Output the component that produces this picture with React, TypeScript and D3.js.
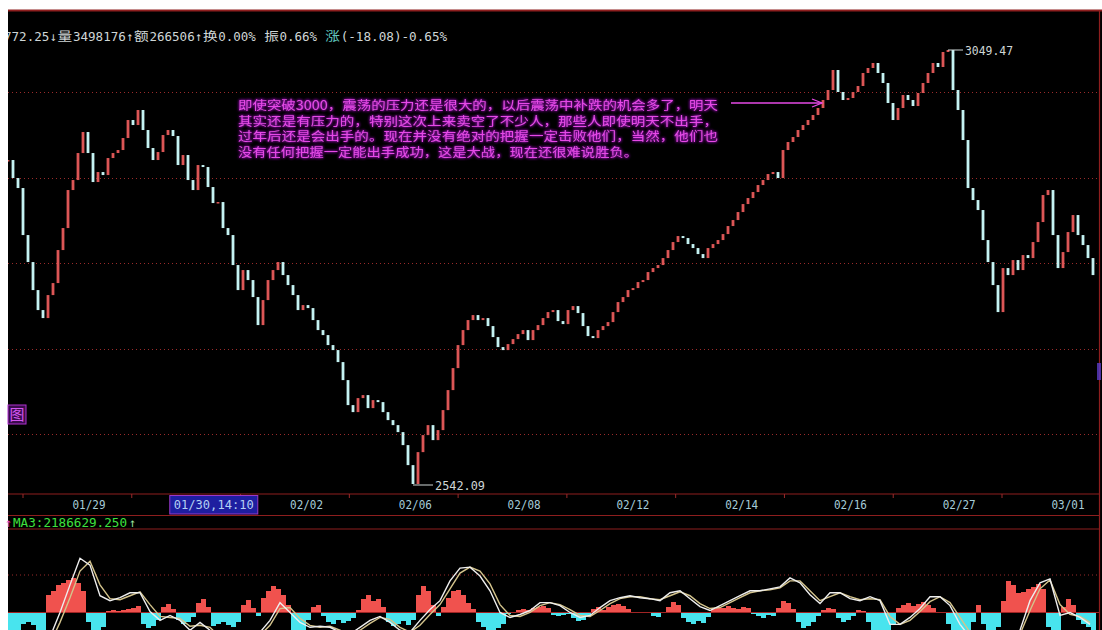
import { useEffect, useRef } from "react";
import * as d3 from "d3";

// closing prices, one candle every ~5px
const closes = [
  2920.84, 2899.79, 2888.09, 2833.13, 2801.56, 2768.81, 2745.43, 2736.07, 2762.97, 2777.0,
  2815.59, 2841.32, 2885.75, 2897.45, 2929.02, 2953.58, 2929.02, 2895.11, 2906.8, 2903.29,
  2923.17, 2929.02, 2932.53, 2946.56, 2967.61, 2961.76, 2979.31, 2955.92, 2934.87, 2920.84,
  2930.19, 2950.07, 2955.92, 2948.9, 2914.99, 2926.68, 2897.45, 2885.75, 2914.99, 2912.65,
  2889.26, 2870.55, 2871.72, 2841.32, 2833.13, 2798.05, 2768.81, 2792.2, 2780.51, 2760.63,
  2727.88, 2757.12, 2780.51, 2792.2, 2801.56, 2786.35, 2774.66, 2762.97, 2745.43, 2751.27,
  2747.76, 2733.73, 2722.04, 2716.19, 2704.5, 2698.65, 2684.62, 2663.57, 2634.33, 2626.15,
  2642.52, 2646.03, 2630.82, 2640.18, 2637.84, 2626.15, 2616.79, 2610.94, 2602.76, 2587.56,
  2564.17, 2542.09, 2579.37, 2599.25, 2610.94, 2593.4, 2605.1, 2628.49, 2651.87, 2677.6,
  2704.5, 2722.04, 2733.73, 2739.58, 2733.73, 2736.07, 2726.72, 2713.85, 2702.16, 2698.65,
  2705.67, 2711.51, 2717.36, 2722.04, 2710.34, 2722.04, 2727.88, 2736.07, 2743.09, 2745.43,
  2732.56, 2729.05, 2745.43, 2750.1, 2741.92, 2726.72, 2715.02, 2712.68, 2722.04, 2726.72,
  2731.39, 2743.09, 2754.78, 2760.63, 2768.81, 2771.15, 2778.17, 2780.51, 2789.86, 2794.54,
  2798.05, 2806.23, 2815.59, 2824.95, 2831.96, 2829.62, 2822.61, 2817.93, 2810.91, 2806.23,
  2817.93, 2822.61, 2827.28, 2834.3, 2843.66, 2850.67, 2860.03, 2869.38, 2876.4, 2883.42,
  2891.6, 2897.45, 2904.46, 2906.8, 2899.79, 2932.53, 2941.89, 2947.73, 2955.92, 2961.76,
  2967.61, 2973.46, 2981.64, 2991.0, 3002.69, 3026.08, 3000.36, 2991.0, 2993.34, 3000.36,
  3007.37, 3022.57, 3028.42, 3034.27, 3022.57, 3010.88, 2987.49, 2967.61, 2981.64, 2996.85,
  2991.0, 2983.98, 2999.19, 3010.88, 3022.57, 3034.27, 3029.59, 3047.13, 3049.47, 3002.69,
  2979.31, 2944.22, 2888.09, 2874.06, 2862.37, 2827.28, 2801.56, 2774.66, 2743.09, 2794.54,
  2786.35, 2803.9, 2792.2, 2809.74, 2806.23, 2824.95, 2848.34, 2879.91, 2885.75, 2833.13,
  2794.54, 2813.25, 2836.64, 2856.52, 2833.13, 2821.44, 2806.23, 2786.35,
];

// lower panel histogram, same candle positions
const oscillator = [
  -20, -22, -20, -12, -10, -13, -20, -22, 18, 22, 28, 30, 33, 35, 30, 22, -10, -22, -25, -15,
  2, 3, 2, 3, 4, 5, 7, -12, -16, -14, -8, 6, 9, 4, -8, -12, -10, -5, 10, 14,
  6, -14, -12, -10, -13, -15, -10, 8, 13, 5, -4, 15, 22, 27, 24, 18, 8, -18, -22, -18,
  -8, 6, 8, -4, -10, -12, -8, -11, -9, -6, 3, 14, 18, 12, 14, 6, -10, -14, -12, -9,
  -13, -8, 18, 27, 22, 8, -4, 6, 15, 22, 23, 18, 10, 4, -10, -15, -18, -20, -16, -12,
  -2, 1, 3, 4, 3, 5, 6, 7, 5, -3, -4, -3, -2, -6, -9, -8, -5, 4, 6, 3,
  6, 8, 9, 7, 4, 1, -1, 1, -1, -4, -5, 1, 6, 11, 8, -6, -10, -12, -9, -11,
  -5, 4, 6, 5, 7, 5, 4, 6, 5, -2, -4, -6, -3, -4, 5, 12, 10, 4, -10, -16,
  -14, -10, -4, 3, 5, 4, -6, -10, -8, -4, 3, 2, -10, -18, -22, -24, -20, -12, 5, 8,
  10, 7, 9, 11, 8, 5, 1, -1, -12, -22, -25, -25, -20, -10, 8, -12, -20, -18, -15, 12,
  32, 28, 20, 21, 24, 26, 29, 24, -15, -24, -20, 6, 14, 8, -8, -12, -15, -20,
];

// two moving-average lines in the lower panel, one point every ~10px
const maFast = [
  -40, -45, -45, -40, -25, 0, 28, 55, 48, 17, 12, 15, 20, 20, 1, -8, -3, -8, -18, -10,
  -18, -28, -30, -30, -28, -20, -8, 10, 0, -10, -15, -14, -15, -20, -22, -15, -8, -4, -10, -18,
  -20, -8, 3, 12, 32, 45, 46, 37, 22, 0, -5, -2, 2, 10, 10, 7, 0, -5, -3, 5,
  12, 15, 17, 15, 14, 12, 20, 22, 14, 6, 2, 7, 12, 17, 22, 22, 24, 26, 35, 30,
  18, 9, 20, 20, 14, 12, 16, 12, -12, -12, -5, 4, 16, 16, 7, -12, -25, -32, -35, -35,
  -30, -18, 12, 30, 34, -3, 0, -5, -12,
];
const maSlow = [
  -42, -45, -46, -43, -32, -10, 15, 42, 52, 28, 14, 13, 17, 21, 8, -4, -5, -6, -14, -13,
  -15, -25, -30, -31, -29, -23, -13, 4, 5, -6, -13, -15, -14, -18, -22, -18, -11, -5, -7, -15,
  -20, -13, -2, 8, 24, 40, 46, 42, 29, 8, -3, -4, 0, 7, 10, 8, 3, -3, -4, 2,
  9, 14, 16, 16, 14, 13, 17, 21, 17, 9, 4, 5, 10, 15, 20, 22, 23, 25, 32, 32,
  22, 12, 16, 20, 16, 13, 14, 13, -4, -12, -8, 1, 11, 16, 10, -5, -20, -30, -34, -35,
  -32, -22, 2, 24, 33, 8, -2, -4, -10,
];

const dateLabels = ["01/29", "01/30,14:10", "02/02", "02/06", "02/08", "02/12", "02/14", "02/16", "02/27", "03/01"];
const cursorLabel = "01/30,14:10";
const priceGrid = [3000, 2900, 2800, 2700, 2600];
const highValue = 3049.47;
const lowValue = 2542.09;
const highIndex = 188;
const lowIndex = 81;
const noteTarget = 163;

const infoParts = [
  { t: "2772.25", u: 7 }, { t: "↓", u: 1 }, { t: "量", u: 2 }, { t: "3498176", u: 7 },
  { t: "↑", u: 1 }, { t: "额", u: 2 }, { t: "266506", u: 6 }, { t: "↑", u: 1 },
  { t: "换", u: 2 }, { t: "0.00%", u: 5 }, { t: " ", u: 1 }, { t: "振", u: 2 },
  { t: "0.66%", u: 5 }, { t: " ", u: 1 }, { t: "涨", u: 2 }, { t: "(-18.08)-0.65%", u: 14 },
];
const maTitle = "MA3:2186629.250";

const noteLines = [
  "即使突破3000，震荡的压力还是很大的，以后震荡中补跌的机会多了，明天",
  "其实还是有压力的，特别这次上来卖空了不少人，那些人即使明天不出手，",
  "过年后还是会出手的。现在并没有绝对的把握一定击败他们，当然，他们也",
  "没有任何把握一定能出手成功，这是大战，现在还很难说胜负。",
];

const MONO = "'DejaVu Sans Mono', 'Liberation Mono', monospace";
const CJK = "'Noto Sans CJK SC', 'DejaVu Sans Mono', sans-serif";

export default function App() {
  const svgRef = useRef<SVGSVGElement>(null);

  useEffect(() => {
    if (!svgRef.current) return;
    const svg = d3.select(svgRef.current);
    svg.selectAll("*").remove();

    const left = 8;
    const right = 1099;
    const top = 10;
    const priceBottom = 494;
    const axisBottom = 515.5;
    const indTop = 529;
    const bottom = 630;
    const border = "#8e1e1e";
    const gridColor = "#9a2b2b";
    const rise = "#dc5656";
    const fall = "#c4f2f2";
    const labelColor = "#a6ccd8";
    const noteColor = "#e64ae6";

    const defs = svg.append("defs");
    defs.append("clipPath").attr("id", "clip-price")
      .append("rect").attr("x", left).attr("y", top + 2).attr("width", right - left).attr("height", priceBottom - top - 2);
    defs.append("clipPath").attr("id", "clip-ind")
      .append("rect").attr("x", left).attr("y", indTop + 1).attr("width", right - left).attr("height", bottom - indTop);
    defs.append("clipPath").attr("id", "clip-panel")
      .append("rect").attr("x", left).attr("y", top).attr("width", 1102 - left).attr("height", bottom - top);

    // purple halo behind the note text
    const glow = defs.append("filter").attr("id", "glow")
      .attr("x", "-5%").attr("y", "-40%").attr("width", "110%").attr("height", "180%");
    glow.append("feGaussianBlur").attr("in", "SourceAlpha").attr("stdDeviation", 1.7).attr("result", "b");
    glow.append("feFlood").attr("flood-color", "#a418c8");
    glow.append("feComposite").attr("in2", "b").attr("operator", "in").attr("result", "g");
    const merge = glow.append("feMerge");
    merge.append("feMergeNode").attr("in", "g");
    merge.append("feMergeNode").attr("in", "g");
    merge.append("feMergeNode").attr("in", "SourceGraphic");

    // background
    svg.append("rect").attr("x", left).attr("y", top).attr("width", 1102 - left).attr("height", bottom - top).attr("fill", "#000");

    const xPrice = d3.scaleLinear().domain([0, closes.length - 1]).range([8, 1093]);
    const yPrice = d3.scaleLinear().domain([lowValue, highValue]).range([484, 50]);
    const xMa = d3.scaleLinear().domain([0, maFast.length - 1]).range([10, 1090]);
    const yInd = d3.scaleLinear().domain([0, 38]).range([612.5, 575]);
    const xDate = d3.scalePoint<string>().domain(dateLabels).range([89, 1068]);

    // frame lines
    const frame = svg.append("g").attr("stroke", border).attr("stroke-width", 1.2);
    frame.append("line").attr("x1", left).attr("x2", 1102).attr("y1", top + 0.5).attr("y2", top + 0.5).attr("stroke-width", 2);
    frame.append("line").attr("x1", right + 0.5).attr("x2", right + 0.5).attr("y1", top).attr("y2", bottom);
    [priceBottom, axisBottom, indTop].forEach((y) =>
      frame.append("line").attr("x1", left).attr("x2", right).attr("y1", y).attr("y2", y)
    );

    // price grid
    svg.append("g").selectAll("line").data(priceGrid).join("line")
      .attr("x1", left).attr("x2", right)
      .attr("y1", (d) => Math.round(yPrice(d)) + 0.5).attr("y2", (d) => Math.round(yPrice(d)) + 0.5)
      .attr("stroke", gridColor).attr("stroke-dasharray", "1,3");

    // info row (first digit sits under the left edge, as in the screenshot)
    const unit = 7.65;
    let cx = -3.6;
    const info = svg.append("g").attr("clip-path", "url(#clip-panel)");
    infoParts.forEach((p) => {
      const cjk = /[\u4e00-\u9fff]/.test(p.t);
      if (p.t.trim()) {
        info.append("text").attr("x", cx).attr("y", 41)
          .attr("font-family", cjk ? CJK : MONO).attr("font-size", 12.5)
          .attr("textLength", p.u * unit - 0.6).attr("lengthAdjust", "spacingAndGlyphs")
          .attr("fill", p.t === "涨" ? "#62c8c0" : "#cfd6d6").text(p.t);
      }
      cx += p.u * unit;
    });

    // candles: open = previous close
    const candles = closes.map((c, i) => ({ i, o: i ? closes[i - 1] : c, c }));
    svg.append("g").attr("clip-path", "url(#clip-price)").selectAll("rect").data(candles).join("rect")
      .attr("x", (d) => xPrice(d.i) - 1.4).attr("width", 2.8)
      .attr("y", (d) => yPrice(Math.max(d.o, d.c)))
      .attr("height", (d) => Math.max(1.5, Math.abs(yPrice(d.o) - yPrice(d.c))))
      .attr("fill", (d) => (d.c >= d.o ? rise : fall));

    // high / low markers
    const hx = xPrice(highIndex), hy = yPrice(highValue);
    svg.append("line").attr("x1", hx).attr("x2", hx + 15).attr("y1", hy).attr("y2", hy).attr("stroke", "#cfd6d6");
    svg.append("text").attr("x", hx + 17).attr("y", hy + 4.5).attr("font-family", MONO).attr("font-size", 12)
      .attr("textLength", 48).attr("lengthAdjust", "spacingAndGlyphs").attr("fill", "#cfd6d6").text(highValue.toFixed(2));
    const lx = xPrice(lowIndex), ly = yPrice(lowValue);
    svg.append("line").attr("x1", lx).attr("x2", lx + 20).attr("y1", ly + 1).attr("y2", ly + 1).attr("stroke", "#cfd6d6");
    svg.append("text").attr("x", lx + 22).attr("y", ly + 6).attr("font-family", MONO).attr("font-size", 12)
      .attr("textLength", 50).attr("lengthAdjust", "spacingAndGlyphs").attr("fill", "#cfd6d6").text(lowValue.toFixed(2));

    // note text with glow
    const note = svg.append("g");
    noteLines.forEach((line, k) => {
      note.append("text").attr("x", 238).attr("y", 110 + k * 15.6)
        .attr("font-family", CJK).attr("font-size", 12.5)
        .attr("textLength", k < 3 ? 480 : 400).attr("lengthAdjust", "spacingAndGlyphs")
        .attr("fill", noteColor).attr("filter", "url(#glow)").text(line);
    });
    const ax = xPrice(noteTarget) - 1;
    note.append("line").attr("x1", 731).attr("x2", ax).attr("y1", 103).attr("y2", 103).attr("stroke", noteColor).attr("stroke-width", 1.3);
    note.append("polyline").attr("points", `${ax - 10},99 ${ax},103 ${ax - 10},107`)
      .attr("fill", "none").attr("stroke", noteColor).attr("stroke-width", 1.3);

    // 图 badge and right-edge marker
    svg.append("rect").attr("x", 8).attr("y", 405).attr("width", 18).attr("height", 19)
      .attr("fill", "#3a0c4c").attr("stroke", "#b030d0");
    svg.append("text").attr("x", 17).attr("y", 420).attr("text-anchor", "middle").attr("font-family", CJK)
      .attr("font-size", 15).attr("fill", "#d456f0").text("图");
    svg.append("rect").attr("x", 1097).attr("y", 363).attr("width", 4).attr("height", 17).attr("fill", "#5a3cc8").attr("opacity", 0.8);

    // date axis
    const axis = svg.append("g");
    axis.selectAll("line").data(dateLabels).join("line")
      .attr("x1", (d) => xDate(d)! - 66).attr("x2", (d) => xDate(d)! - 66)
      .attr("y1", priceBottom).attr("y2", priceBottom + 4).attr("stroke", gridColor);
    const cur = xDate(cursorLabel)!;
    axis.append("rect").attr("x", cur - 28).attr("y", priceBottom + 1.5).attr("width", 88).attr("height", 18.5)
      .attr("fill", "#1e1ea0").attr("stroke", "#9a38c8");
    axis.selectAll("text").data(dateLabels).join("text")
      .attr("x", (d) => (d === cursorLabel ? cur + 16 : xDate(d)!))
      .attr("y", 509).attr("text-anchor", "middle")
      .attr("font-family", MONO).attr("font-size", 12)
      .attr("textLength", (d) => (d === cursorLabel ? 80 : 33)).attr("lengthAdjust", "spacingAndGlyphs")
      .attr("fill", (d) => (d === cursorLabel ? "#b4d0f4" : labelColor)).text((d) => d);

    // indicator title
    svg.append("text").attr("x", 5).attr("y", 526.5).attr("font-family", MONO).attr("font-size", 12)
      .attr("textLength", 7).attr("lengthAdjust", "spacingAndGlyphs").attr("fill", "#e048c0").text("↑");
    svg.append("text").attr("x", 13).attr("y", 526.5).attr("font-family", MONO).attr("font-size", 12)
      .attr("textLength", 114).attr("lengthAdjust", "spacingAndGlyphs").attr("fill", "#3ee03e").text(maTitle);
    svg.append("text").attr("x", 129).attr("y", 526.5).attr("font-family", MONO).attr("font-size", 12)
      .attr("textLength", 7).attr("lengthAdjust", "spacingAndGlyphs").attr("fill", "#9ae09a").text("↑");

    // indicator panel
    const ind = svg.append("g").attr("clip-path", "url(#clip-ind)");
    ind.append("line").attr("x1", left).attr("x2", right).attr("y1", yInd(38)).attr("y2", yInd(38))
      .attr("stroke", gridColor).attr("stroke-dasharray", "1,3");
    ind.append("g").attr("shape-rendering", "crispEdges").selectAll("rect").data(oscillator).join("rect")
      .attr("x", (_, i) => xPrice(i) - 2.5).attr("width", 5.2)
      .attr("y", (d) => (d >= 0 ? yInd(d) : yInd(0)))
      .attr("height", (d) => Math.abs(yInd(d) - yInd(0)))
      .attr("fill", (d) => (d >= 0 ? "#f0524e" : "#48e4ee"));
    ind.append("line").attr("x1", left).attr("x2", right).attr("y1", yInd(0)).attr("y2", yInd(0))
      .attr("stroke", "#a02424").attr("stroke-width", 1);
    const maLine = d3.line<number>().x((_, i) => xMa(i)).y((d) => yInd(d));
    ind.append("path").datum(maSlow).attr("d", maLine).attr("fill", "none").attr("stroke", "#d4c48c").attr("stroke-width", 1.4);
    ind.append("path").datum(maFast).attr("d", maLine).attr("fill", "none").attr("stroke", "#eeeeee").attr("stroke-width", 1.4);
  }, []);

  return (
    <svg
      ref={svgRef}
      width={1102}
      height={630}
      style={{ position: "absolute", left: 0, top: 0, display: "block", background: "#fff" }}
    />
  );
}
